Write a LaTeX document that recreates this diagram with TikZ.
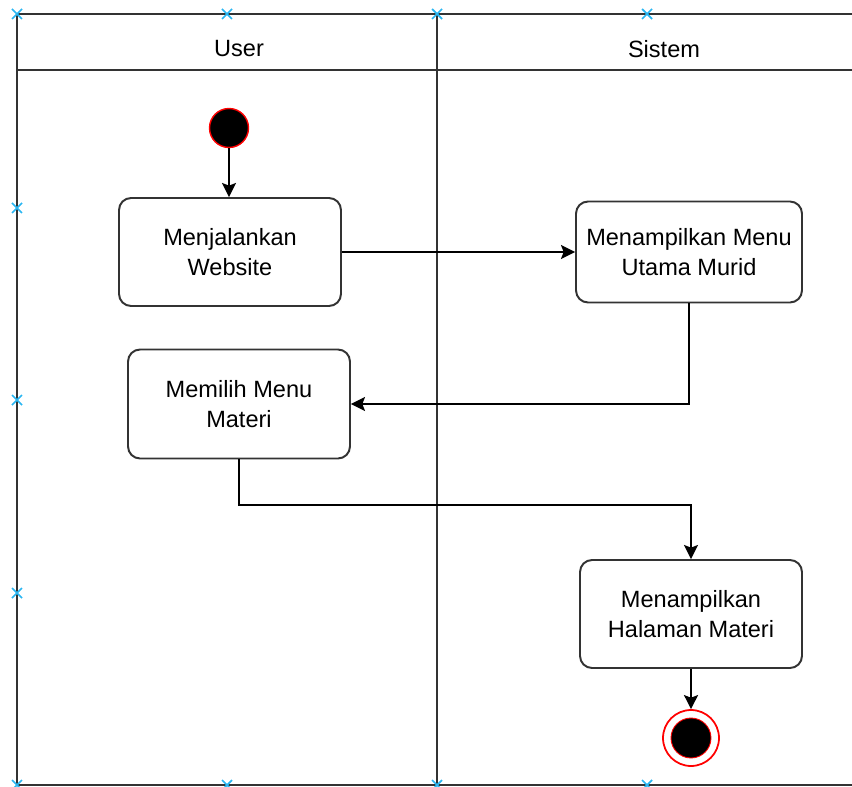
\documentclass[tikz,border=0pt]{standalone}
\usepackage{fontspec}
\setmainfont{Liberation Sans}
\usetikzlibrary{arrows.meta}

\definecolor{handleblue}{RGB}{41,182,242}
\definecolor{edgegray}{RGB}{51,51,51}

\begin{document}
\begin{tikzpicture}[x=0.02cm, y=-0.02cm, font=\fontsize{13.4}{17}\selectfont,
        activity/.style={draw=edgegray, line width=1.1pt, rounded corners=0.24cm, align=center, inner sep=2pt},
        flow/.style={line width=1.1pt, -{Stealth[length=8pt,width=8pt,inset=1.5pt]}},
        lane/.style={line width=1.1pt, edgegray},
        handle/.style={handleblue, line width=1pt}]
        \useasboundingbox (0,0) rectangle (852,787);

        % swimlanes
        \draw[lane] (852,14) -- (17,14) -- (17,785) -- (852,785);
        \draw[lane] (17,70) -- (852,70);
        \draw[lane] (437,14) -- (437,785);
        \node (userlane) at (239,49) {User};
        \node (sistemlane) at (664,49) {Sistem};

        % handles
        \foreach \p in {(17,14),(227,14),(437,14),(647,14),(17,208),(17,400),(17,593),(17,785),(227,785),(437,785),(647,785)}
            \draw[handle] \p +(-5,-5) -- +(5,5) +(-5,5) -- +(5,-5);

        % start and end
        \node[circle, fill=black, draw=red, line width=0.8pt, minimum size=0.78cm, inner sep=0pt] (start) at (229,128) {};
        \node[circle, draw=red, line width=1pt, minimum size=1.12cm, inner sep=0pt] (end) at (691,738) {};
        \node[circle, fill=black, draw=red, line width=0.5pt, minimum size=0.8cm, inner sep=0pt] (endin) at (691,738) {};

        % activities
        \node[activity, minimum width=4.44cm, minimum height=2.16cm] (jalan) at (230,252) {Menjalankan\\Website};
        \node[activity, minimum width=4.52cm, minimum height=2.02cm] (menu) at (689,252) {Menampilkan Menu\\Utama Murid};
        \node[activity, minimum width=4.44cm, minimum height=2.18cm] (pilih) at (239,404) {Memilih Menu\\Materi};
        \node[activity, minimum width=4.44cm, minimum height=2.16cm] (materi) at (691,614) {Menampilkan\\Halaman Materi};

        \coordinate (bend) at (691,505);

        % flows
        \draw[flow] (start) -- (start |- jalan.north);
        \draw[flow] (jalan) -- (menu);
        \draw[flow] (menu.south) |- (pilih.east);
        \draw[flow] (pilih.south) |- (bend) -- (materi.north);
        \draw[flow] (materi) -- (end);
    \end{tikzpicture}
\end{document}
